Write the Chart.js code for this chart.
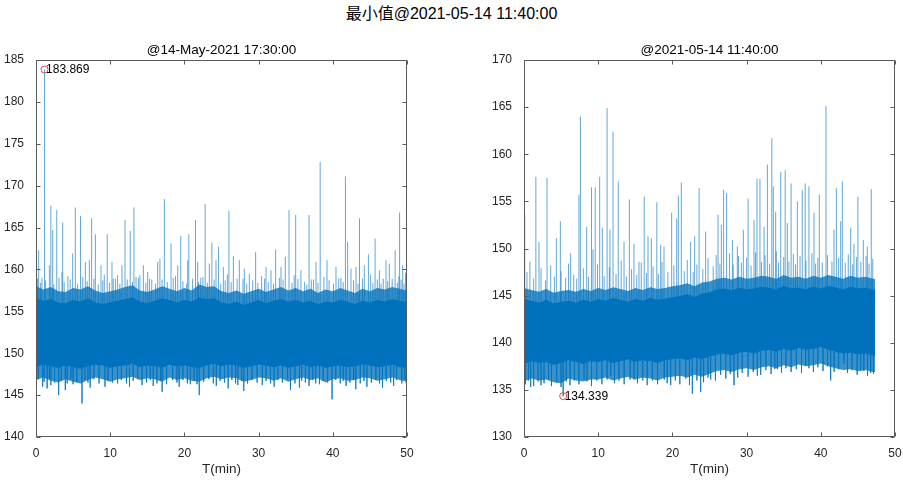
<!DOCTYPE html>
<html>
<head>
<meta charset="utf-8">
<script src="https://cdn.jsdelivr.net/npm/chart.js@4.4.1/dist/chart.umd.min.js"></script>
<style>
body{margin:0;background:#fff;width:903px;height:481px;position:relative;overflow:hidden;font-family:"Liberation Sans",Arial,"Noto Sans CJK SC",sans-serif;}
#title{position:absolute;left:0;top:4px;width:903px;text-align:center;font-size:16px;line-height:20px;color:#000;}
canvas{position:absolute;top:0;}
#c1{left:0}
#c2{left:488px}
</style>
</head>
<body>
<div id="title">最小值@2021-05-14 11:40:00</div>
<canvas id="c1" width="451" height="481"></canvas>
<canvas id="c2" width="415" height="481"></canvas>
<script>
var FONT = '"Liberation Sans", Arial, sans-serif';
var BLUE = '#0072bd';
var FRINGE = 'rgba(0,114,189,0.78)';
var NEEDLE = 'rgba(0,114,189,0.62)';

var xTicks = [0, 10, 20, 30, 40, 50];

// left panel: @14-May-2021 17:30:00
var leftT = [0,1,2,3,4,5,6,7,8,9,10,11,12,13,14,15,16,17,18,19,20,21,22,23,24,25,26,27,28,29,30,31,32,33,34,35,36,37,38,39,40,41,42,43,44,45,46,47,48,49,50];
var leftFringeHi = [158.0,157.6,157.9,157.4,157.3,157.8,157.6,158.0,157.5,157.2,157.4,157.6,157.9,158.1,157.5,157.3,157.6,158.0,157.7,157.4,157.8,157.5,158.2,157.9,158.0,157.4,157.2,157.5,157.1,157.4,157.7,157.3,157.6,157.9,157.5,157.8,157.4,157.7,157.2,157.6,157.4,157.8,157.5,157.2,157.7,157.4,157.8,157.6,157.9,157.7,157.5];
var leftCoreHi = [156.5,156.2,156.4,156.0,155.9,156.3,156.1,156.5,156.0,155.8,156.0,156.2,156.4,156.6,156.1,155.9,156.2,156.5,156.3,156.0,156.3,156.1,156.6,156.4,156.5,156.0,155.8,156.1,155.7,156.0,156.3,155.9,156.2,156.4,156.1,156.3,156.0,156.2,155.8,156.1,156.0,156.3,156.1,155.8,156.2,156.0,156.3,156.1,156.4,156.2,156.0];
var leftCoreLo = [148.4,148.7,148.5,148.3,148.6,148.4,148.2,148.5,148.7,148.6,148.3,148.5,148.6,148.8,148.4,148.6,148.5,148.3,148.7,148.5,148.6,148.4,148.3,148.6,148.8,148.5,148.7,148.6,148.3,148.5,148.7,148.6,148.4,148.6,148.3,148.5,148.7,148.4,148.6,148.3,148.5,148.6,148.4,148.5,148.7,148.6,148.4,148.5,148.7,148.4,148.3];
var leftFringeLo = [146.8,147.1,146.7,146.5,146.9,146.6,146.4,146.8,147.1,146.9,146.6,146.9,147.0,147.2,146.8,147.0,146.9,146.6,147.1,146.8,147.0,146.7,146.6,147.0,147.2,146.9,147.1,147.0,146.6,146.8,147.1,147.0,146.7,147.0,146.6,146.9,147.1,146.8,147.0,146.5,146.9,147.0,146.7,146.8,147.1,147.0,146.7,146.9,147.1,146.8,146.6];
var leftSpikes = [
  [0.36,162.3],[1.15,183.869],[1.8,160.5],[2.0,167.6],[2.25,164.7],[2.8,167.1],[3.5,159.7],[3.6,165.6],[4.94,161.9],[5.3,167.4],
  [6.0,166.4],[6.65,160.9],[7.19,161.1],[7.5,166.1],[8.0,164.2],[8.76,160.5],[9.6,164.2],[10.24,160.9],[11.0,159.3],[11.59,160.5],
  [12.0,165.9],[12.7,164.6],[13.2,167.4],[13.48,159.1],[14.47,160.5],[15.05,159.7],[16.4,160.9],[16.7,161.3],[17.3,168.4],[18.2,163.1],
  [19.1,160.5],[19.5,164.0],[20.44,161.1],[20.6,164.2],[21.5,165.9],[21.79,160.9],[22.8,167.8],[23.36,160.7],[23.7,163.2],[24.26,161.1],
  [24.6,162.7],[25.25,160.3],[26.0,167.0],[26.6,161.6],[27.4,161.1],[28.08,160.1],[28.75,159.5],[29.6,162.1],[31.0,160.3],[31.67,159.9],
  [32.3,162.4],[33.02,160.3],[33.6,161.5],[34.1,167.1],[35.0,166.5],[35.71,159.9],[36.8,166.5],[37.74,160.9],[38.3,172.8],[39.22,161.1],
  [40.43,160.3],[41.7,171.1],[42.0,163.3],[42.45,160.1],[43.13,160.3],[43.6,166.1],[44.25,160.5],[44.8,161.8],[45.7,163.7],[46.27,159.9],
  [47.17,161.1],[47.62,160.7],[48.4,162.3],[49.0,166.8],[49.42,160.5],
  [0.8,159.0],[4.3,159.2],[9.2,159.4],[10.7,158.9],[14.0,159.3],[15.6,158.8],[18.8,159.2],[22.2,159.0],[25.8,159.4],[27.9,158.9],
  [30.4,159.2],[32.8,159.0],[34.8,159.3],[37.1,158.8],[38.8,159.1],[41.1,159.0],[45.1,159.4],[46.8,158.9],[48.9,159.2],[49.8,159.6]
];
var leftShortUp = [
  [0.2,158.9],[0.6,158.4],[1.3,158.7],[2.4,158.2],[3.1,159.0],[3.8,158.5],[4.6,158.8],[5.6,158.3],[6.3,159.1],[6.9,158.6],
  [7.8,158.9],[8.4,158.2],[9.0,158.7],[9.9,158.4],[10.4,158.9],[11.3,158.3],[12.3,158.8],[13.0,158.5],[13.8,159.0],[14.8,158.4],
  [15.3,158.9],[16.1,158.3],[17.0,158.8],[17.7,158.5],[18.5,159.0],[19.8,158.6],[20.3,158.3],[21.1,158.9],[21.9,158.5],[22.5,159.1],
  [23.1,158.4],[24.0,158.8],[24.9,158.3],[25.5,158.7],[26.3,158.5],[27.1,158.9],[28.4,158.3],[29.2,158.7],[29.9,158.4],[30.8,158.9],
  [31.3,158.5],[32.0,158.3],[33.3,158.8],[34.5,158.4],[35.3,158.9],[36.2,158.5],[36.5,158.2],[37.4,158.8],[38.0,158.4],[39.5,158.7],
  [40.1,158.3],[40.8,158.9],[41.4,158.5],[42.8,158.7],[43.4,158.3],[44.0,158.9],[45.4,158.4],[46.0,158.8],[46.5,158.3],[47.4,158.6],
  [48.0,158.9],[48.7,158.4],[49.2,158.8],[49.6,158.3]
];
var leftDips = [
  [0.9,146.0],[1.5,145.8],[2.0,146.2],[3.05,145.0],[3.95,145.6],[5.0,146.3],[6.2,144.0],[7.3,145.9],[9.3,146.0],[11.0,146.4],
  [12.6,146.0],[14.3,146.2],[15.8,146.1],[17.0,145.4],[19.3,146.0],[20.8,146.3],[22.0,145.0],[24.3,146.1],[25.9,145.8],[27.2,146.2],
  [28.0,145.5],[30.5,146.2],[32.1,146.0],[34.3,145.6],[35.5,145.9],[36.8,146.1],[38.2,146.3],[39.9,144.5],[41.8,146.1],[43.1,145.7],
  [44.6,146.0],[46.7,145.9],[48.2,146.1],[49.9,146.4]
];
var leftShortDn = [
  [0.3,146.9],[1.1,146.6],[1.8,147.0],[2.5,146.5],[3.4,146.8],[4.2,146.4],[4.7,146.9],[5.5,146.6],[6.6,146.8],[7.0,146.5],
  [7.8,146.9],[8.5,146.4],[9.7,146.7],[10.3,146.5],[11.5,146.8],[12.2,146.4],[13.1,146.7],[13.7,146.9],[14.9,146.5],[15.4,146.8],
  [16.3,146.4],[16.8,146.7],[17.6,146.3],[18.4,146.8],[19.0,146.5],[19.8,146.8],[20.4,146.4],[21.3,146.7],[21.7,146.3],[22.6,146.6],
  [23.3,146.9],[23.9,146.4],[24.8,146.7],[25.4,146.5],[26.4,146.8],[26.9,146.4],[27.7,146.7],[28.5,146.4],[29.1,146.8],[29.8,146.5],
  [31.0,146.7],[31.6,146.4],[32.6,146.8],[33.2,146.5],[33.9,146.9],[34.9,146.4],[35.8,146.7],[36.3,146.5],[37.3,146.8],[37.7,146.4],
  [38.7,146.7],[39.3,146.5],[40.4,146.8],[41.0,146.4],[41.4,146.7],[42.3,146.5],[42.8,146.8],[43.7,146.4],[44.2,146.7],[45.2,146.5],
  [45.8,146.8],[46.3,146.4],[47.2,146.7],[47.8,146.5],[48.6,146.8],[49.3,146.4],[49.7,146.9]
];
var leftMark = [1.15, 183.869];

// right panel: @2021-05-14 11:40:00
var rightT = [0,1,2,3,4,5,6,7,8,9,10,11,12,13,14,15,16,17,18,19,20,21,22,23,24,25,26,27,28,29,30,31,32,33,34,35,36,37,38,39,40,41,42,43,44,45,46,47,47.3];
var rightFringeHi = [145.8,145.6,145.4,145.7,145.3,145.5,145.6,145.4,145.7,145.5,
  145.8,145.6,145.9,145.7,145.5,145.8,145.6,145.9,145.7,145.8,146.0,
  146.1,146.3,146.0,146.4,146.5,
  146.8,146.9,146.7,147.0,146.8,146.9,147.1,147.0,146.8,147.2,146.9,147.0,146.8,147.1,146.9,147.2,147.0,146.8,147.1,146.9,147.0,146.8,146.8];
var rightCoreHi = [144.6,144.4,144.2,144.5,144.1,144.3,144.4,144.2,144.5,144.3,
  144.6,144.4,144.7,144.5,144.3,144.6,144.4,144.7,144.5,144.6,144.8,
  144.9,145.1,144.8,145.2,145.3,
  145.6,145.7,145.5,145.8,145.6,145.7,145.9,145.8,145.6,146.0,145.7,145.8,145.6,145.9,145.7,146.0,145.8,145.6,145.9,145.7,145.8,145.6,145.6];
var rightCoreLo = [137.8,138.1,137.9,138.0,137.7,137.9,138.2,138.0,137.8,138.1,
  138.0,138.2,137.9,138.1,138.3,138.0,138.2,138.1,137.9,138.2,138.3,
  138.4,138.2,138.5,138.3,138.6,
  138.8,138.9,138.7,139.0,139.1,138.9,139.2,139.3,139.1,139.4,139.2,139.5,139.3,139.4,139.6,139.3,139.1,138.9,139.0,138.8,138.9,138.7,138.7];
var rightFringeLo = [135.9,136.2,136.0,136.1,135.8,135.7,136.2,136.0,135.9,136.1,
  136.1,136.3,136.0,136.2,136.4,136.1,136.3,136.2,136.0,136.3,136.4,
  136.5,136.3,136.6,136.4,136.7,
  137.0,137.1,136.9,137.2,137.3,137.1,137.4,137.5,137.3,137.6,137.4,137.7,137.5,137.6,137.8,137.5,137.3,137.1,137.2,137.0,137.1,136.9,136.9];
var rightSpikes = [
  [0.1,153.6],[1.6,157.6],[2.02,150.7],[3.1,157.5],[4.36,151.1],[4.9,152.9],[6.29,149.5],[7.4,155.7],[7.6,164.0],[8.45,152.3],
  [9.1,156.5],[9.3,149.9],[9.6,156.5],[10.2,157.6],[10.56,152.2],[11.2,164.9],[11.59,152.0],[12.0,162.4],[12.7,157.1],[13.48,150.7],
  [14.2,155.2],[14.82,150.5],[15.5,148.6],[16.2,155.5],[16.71,151.3],[17.16,151.1],[17.9,154.9],[18.42,150.4],[18.87,150.2],[19.9,153.8],
  [20.58,153.2],[20.8,155.6],[21.2,157.0],[22.46,150.7],[23.0,151.3],[23.6,156.4],[24.48,151.8],[26.15,153.6],[26.6,152.5],[26.9,156.2],
  [27.3,155.9],[28.08,150.9],[28.75,150.2],[29.56,152.0],[30.2,155.3],[31.0,153.0],[31.4,157.4],[31.8,157.4],[32.35,152.3],[32.8,158.9],
  [33.4,161.7],[33.6,156.6],[33.92,153.9],[34.6,158.1],[35.2,158.3],[35.49,152.7],[36.0,156.9],[36.84,155.0],[37.5,156.2],[37.9,156.9],
  [38.4,156.6],[39.08,153.8],[39.8,155.7],[40.7,165.1],[41.78,152.0],[42.1,156.4],[42.68,152.9],[42.9,157.1],[44.03,152.2],[44.47,150.5],
  [45.0,155.5],[45.73,150.9],[46.27,150.2],[46.8,156.3]
];
var rightShortUp = [
  [0.4,147.5],[0.8,148.6],[1.3,146.8],[2.3,147.9],[2.9,146.6],[3.6,148.2],[4.1,147.0],[5.0,147.6],[5.6,146.9],[6.0,148.4],
  [6.7,147.2],[7.1,146.8],[8.0,147.9],[8.7,147.0],[9.9,148.3],[10.8,147.1],[11.5,148.0],[12.4,147.3],[13.1,148.7],[13.8,147.0],
  [14.5,147.8],[15.2,147.2],[15.8,148.5],[16.5,147.4],[17.4,148.1],[18.1,147.3],[18.6,148.6],[19.4,147.5],[20.2,148.2],[21.6,147.6],
  [22.0,148.8],[22.8,147.5],[23.3,148.3],[24.1,147.8],[24.8,149.0],[25.5,148.1],[25.9,149.3],[26.4,148.4],[27.7,149.5],[28.2,148.3],
  [28.9,149.2],[29.3,148.5],[30.0,149.0],[30.6,148.2],[31.2,149.6],[32.0,148.6],[32.5,149.3],[33.1,148.4],[34.0,149.7],[34.3,148.5],
  [35.0,149.1],[35.7,148.6],[36.3,149.4],[36.6,148.3],[37.2,149.2],[38.0,148.7],[38.8,149.5],[39.3,148.4],[39.6,149.0],[40.2,148.5],
  [40.9,149.3],[41.5,148.6],[42.4,149.0],[43.3,148.5],[43.7,149.4],[44.3,148.3],[44.8,149.1],[45.4,148.6],[46.1,149.2],[46.5,148.4],
  [47.0,148.9]
];
var rightDips = [
  [0.9,135.3],[2.7,135.7],[5.28,134.339],[8.09,136.1],[11.68,136.5],[14.82,136.1],[19.77,135.5],[22.69,134.6],[23.81,134.8],[25.16,136.1],
  [28.3,135.5],[31.45,136.5],[34.14,137.2],[37.96,137.6],[41.33,136.0],[43.13,137.8],[45.37,137.0],[46.72,136.8]
];
var rightShortDn = [
  [0.2,135.6],[0.6,136.0],[1.3,135.4],[1.9,135.9],[2.3,135.5],[3.3,136.1],[3.7,135.4],[4.4,135.8],[5.0,135.3],[5.7,135.9],
  [6.2,135.5],[6.8,136.0],[7.4,135.6],[8.5,135.9],[9.1,135.4],[9.8,136.0],[10.5,135.6],[11.2,136.1],[12.2,135.7],[12.8,136.0],
  [13.5,135.6],[14.3,136.1],[15.3,135.7],[16.0,136.0],[16.6,135.5],[17.3,136.0],[18.0,135.6],[18.9,136.1],[19.3,135.7],[20.4,136.0],
  [21.0,135.6],[21.8,136.2],[22.3,135.5],[23.3,136.0],[24.2,135.8],[24.8,136.3],[25.8,136.0],[26.5,136.6],[27.2,136.2],[27.8,136.7],
  [28.8,136.3],[29.4,136.8],[30.2,136.4],[30.9,136.9],[31.9,136.6],[32.6,137.1],[33.3,136.7],[33.8,137.2],[34.7,136.8],[35.3,137.3],
  [36.0,136.9],[36.7,137.2],[37.4,136.8],[38.4,137.3],[39.0,136.9],[39.6,137.4],[40.3,137.0],[40.9,137.5],[41.8,136.9],[42.4,137.2],
  [43.6,136.8],[44.2,137.1],[44.9,136.6],[45.8,137.0],[46.3,136.5],[47.1,136.7]
];
var rightMark = [5.28, 134.339];

function pts(ts, vs) {
  return ts.map(function(t, i) { return {x: t, y: vs[i]}; });
}

function needles(list, base) {
  var out = [];
  list.forEach(function(p) {
    out.push({x: p[0], y: base}, {x: p[0], y: p[1]}, {x: p[0], y: null});
  });
  return out;
}

var boxPlugin = {
  id: 'box',
  afterDraw: function(chart) {
    var ctx = chart.ctx, a = chart.chartArea;
    var xs = chart.scales.x, ys = chart.scales.y;
    var l = Math.round(a.left) + 0.5, r = Math.round(a.right) - 0.5;
    var t = Math.round(a.top) + 0.5, b = Math.round(a.bottom) - 0.5;
    ctx.save();
    ctx.strokeStyle = '#5a5a5a';
    ctx.lineWidth = 1;
    ctx.beginPath();
    ctx.rect(l, t, r - l, b - t);
    xs.ticks.forEach(function(tk) {
      var px = Math.round(xs.getPixelForValue(tk.value)) + 0.5;
      ctx.moveTo(px, b); ctx.lineTo(px, b - 4);
      ctx.moveTo(px, t); ctx.lineTo(px, t + 4);
    });
    ys.ticks.forEach(function(tk) {
      var py = Math.round(ys.getPixelForValue(tk.value)) + 0.5;
      ctx.moveTo(l, py); ctx.lineTo(l + 4, py);
      ctx.moveTo(r, py); ctx.lineTo(r - 4, py);
    });
    ctx.stroke();

    var m = chart.options.plugins.box.mark;
    if (m) {
      var mx = xs.getPixelForValue(m[0]), my = ys.getPixelForValue(m[1]);
      ctx.fillStyle = '#000';
      ctx.font = '12px ' + FONT;
      ctx.textAlign = 'left';
      ctx.textBaseline = 'middle';
      ctx.fillText(String(m[1]), mx + 1.5, my + 0.5);
    }
    ctx.restore();
  }
};

function makeChart(id, cfg) {
  var base = cfg.yMid;
  return new Chart(document.getElementById(id), {
    type: 'line',
    data: {
      datasets: [
        {data: pts(cfg.t, cfg.fringeHi), borderWidth: 0, pointRadius: 0, fill: false, order: 6},
        {data: pts(cfg.t, cfg.fringeLo), borderWidth: 0, pointRadius: 0, fill: '-1', backgroundColor: FRINGE, order: 5},
        {data: needles(cfg.spikes.concat(cfg.shortUp), base), borderColor: NEEDLE, borderWidth: 1, pointRadius: 0, fill: false, spanGaps: false, order: 4},
        {data: needles(cfg.dips.concat(cfg.shortDn), base), borderColor: NEEDLE, borderWidth: 1, pointRadius: 0, fill: false, spanGaps: false, order: 3},
        {data: pts(cfg.t, cfg.coreHi), borderColor: BLUE, borderWidth: 1, pointRadius: 0, fill: false, order: 2},
        {data: pts(cfg.t, cfg.coreLo), borderColor: BLUE, borderWidth: 1, pointRadius: 0, fill: '-1', backgroundColor: BLUE, order: 1},
        {data: [{x: cfg.mark[0], y: cfg.mark[1]}], showLine: false, pointRadius: 3.5, pointStyle: 'circle',
         pointBorderColor: '#e5484d', pointBackgroundColor: 'rgba(0,0,0,0)', pointBorderWidth: 1, order: 0}
      ]
    },
    options: {
      responsive: false,
      animation: false,
      devicePixelRatio: 1,
      layout: {padding: {left: 0, right: cfg.padRight, top: 0, bottom: 0}},
      plugins: {
        legend: {display: false},
        tooltip: {enabled: false},
        title: {display: true, text: cfg.title, fullSize: false, color: '#000',
          font: {family: FONT, size: 13.5, weight: 'normal', lineHeight: 1.2},
          padding: {top: 42, bottom: 1.8}},
        box: {mark: cfg.mark}
      },
      scales: {
        x: {
          type: 'linear', min: 0, max: 50,
          afterFit: function(s) { s.height = 44; },
          afterBuildTicks: function(s) { s.ticks = xTicks.map(function(v) { return {value: v}; }); },
          ticks: {color: '#262626', font: {family: FONT, size: 12}, padding: 1, maxRotation: 0},
          grid: {display: false}, border: {display: false},
          title: {display: true, text: 'T(min)', color: '#262626', font: {family: FONT, size: 13.5}, padding: {top: 0, bottom: 4}}
        },
        y: {
          type: 'linear', min: cfg.yMin, max: cfg.yMax,
          afterFit: function(s) { s.width = 36; },
          ticks: {stepSize: 5, color: '#262626', font: {family: FONT, size: 12}, padding: 4},
          grid: {display: false}, border: {display: false}
        }
      }
    },
    plugins: [boxPlugin]
  });
}

makeChart('c1', {
  title: '@14-May-2021 17:30:00', yMin: 140, yMax: 185, yMid: 152.4, padRight: 44,
  t: leftT, fringeHi: leftFringeHi, coreHi: leftCoreHi, coreLo: leftCoreLo, fringeLo: leftFringeLo,
  spikes: leftSpikes, shortUp: leftShortUp, dips: leftDips, shortDn: leftShortDn, mark: leftMark
});

makeChart('c2', {
  title: '@2021-05-14 11:40:00', yMin: 130, yMax: 170, yMid: 141.5, padRight: 8,
  t: rightT, fringeHi: rightFringeHi, coreHi: rightCoreHi, coreLo: rightCoreLo, fringeLo: rightFringeLo,
  spikes: rightSpikes, shortUp: rightShortUp, dips: rightDips, shortDn: rightShortDn, mark: rightMark
});
</script>
</body>
</html>
